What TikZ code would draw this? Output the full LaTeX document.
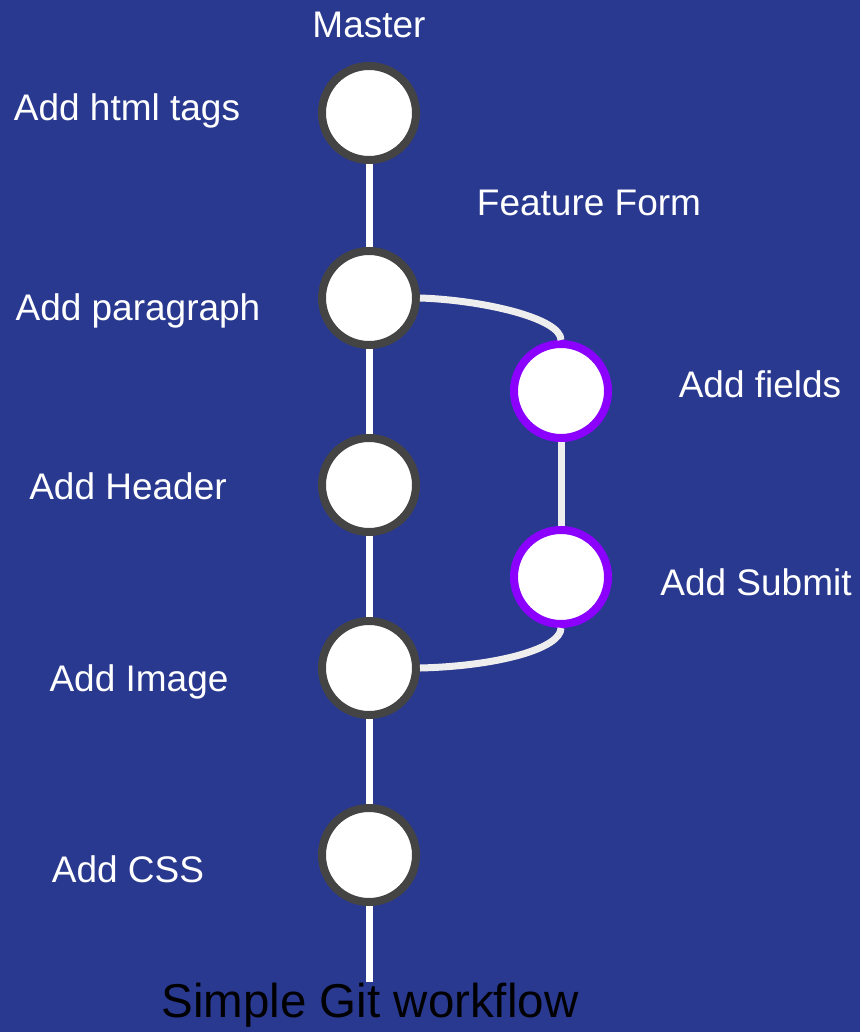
\documentclass[tikz,border=0pt]{standalone}
\usepackage{fontspec}
\setmainfont{Liberation Sans}
\definecolor{bgblue}{RGB}{41,57,143}
\definecolor{ringgray}{RGB}{68,68,68}
\definecolor{ringpurple}{RGB}{140,0,255}
\definecolor{branchgray}{RGB}{238,238,238}
\tikzset{
  commit/.style={circle, fill=white, draw=ringgray, line width=8pt, minimum size=94pt, inner sep=0pt},
  fcommit/.style={commit, draw=ringpurple},
  lbl/.style={text=white, font=\fontsize{37}{40}\selectfont, inner sep=0pt, text depth=0pt},
  trunk/.style={draw=white, line width=7pt},
  branch/.style={draw=branchgray, line width=7pt},
}
\begin{document}
\begin{tikzpicture}[x=1pt,y=-1pt]
  \fill[bgblue] (0,0) rectangle (860,1032);
  \useasboundingbox (0,0) rectangle (860,1032);

  % master trunk
  \coordinate (mend) at (369,982);
  \coordinate (mtop) at (369,113);
  \draw[trunk] (mtop) -- (mend);

  % master commits
  \node[commit] (m1) at (369,113) {};
  \node[commit] (m2) at (369,298) {};
  \node[commit] (m3) at (369,485) {};
  \node[commit] (m4) at (369,668) {};
  \node[commit] (m5) at (369,855) {};

  % feature commits
  \node[fcommit] (f1) at (561,391) {};
  \node[fcommit] (f2) at (561,577) {};

  % feature branch connectors
  \draw[branch] (m2.east) .. controls (482,300) and (561,318) .. (f1.north);
  \draw[branch] (f1.south) -- (f2.north);
  \draw[branch] (f2.south) .. controls (561,648) and (500,666) .. (m4.east);

  % labels
  \node[lbl] (tmaster) at (369,25) {Master};
  \node[lbl] (tfeat) at (589,203) {Feature Form};
  \node[lbl] (l1) at (127,107) {Add html tags};
  \node[lbl] (l2) at (138,307) {Add paragraph};
  \node[lbl] (l3) at (128,486) {Add Header};
  \node[lbl] (l4) at (139,678) {Add Image};
  \node[lbl] (l5) at (128,869) {Add CSS};
  \node[lbl] (lf1) at (760,384) {Add fields};
  \node[lbl] (lf2) at (756,582) {Add Submit};

  % title
  \node[text=black, font=\fontsize{47.5}{50}\selectfont, inner sep=0pt] (title) at (370,1005) {Simple Git workflow};
\end{tikzpicture}
\end{document}
